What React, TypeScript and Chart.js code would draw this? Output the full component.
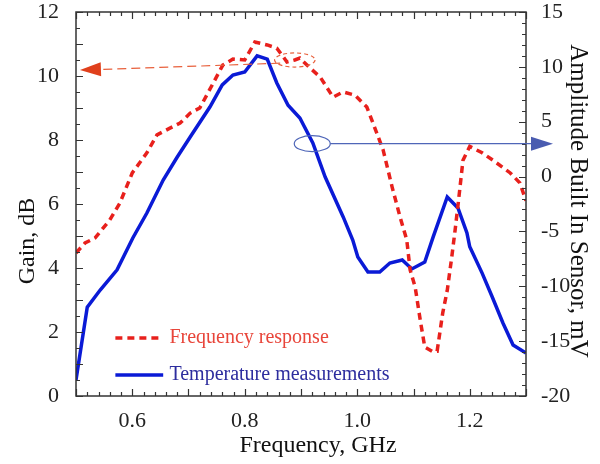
import React, { useEffect, useRef } from "react";
import { Chart, registerables } from "chart.js";
Chart.register(...registerables);

// Frequency response (left axis, Gain dB)
const RESP_FREQ = [0.5, 0.516, 0.534, 0.56, 0.578, 0.6, 0.626, 0.644, 0.667, 0.685, 0.703, 0.72, 0.744, 0.761, 0.779, 0.8, 0.818, 0.84, 0.857, 0.875, 0.889, 0.898, 0.916, 0.934, 0.957, 0.975, 0.996, 1.017, 1.028, 1.046, 1.062, 1.076, 1.088, 1.094, 1.103, 1.112, 1.12, 1.133, 1.142, 1.152, 1.16, 1.168, 1.174, 1.18, 1.188, 1.2, 1.222, 1.241, 1.272, 1.289, 1.3];
const RESP_GAIN = [4.47, 4.78, 4.94, 5.5, 6.03, 6.97, 7.6, 8.16, 8.37, 8.53, 8.84, 9.0, 9.78, 10.34, 10.53, 10.5, 11.06, 10.97, 10.87, 10.44, 10.5, 10.56, 10.25, 9.97, 9.34, 9.5, 9.4, 9.03, 8.53, 7.69, 6.53, 5.6, 4.88, 3.94, 3.4, 2.37, 1.53, 1.4, 1.4, 2.6, 3.3, 4.34, 5.19, 6.1, 7.37, 7.8, 7.6, 7.37, 6.97, 6.66, 6.1];

// Temperature measurements (right axis, mV)
const TEMP_FREQ = [0.5, 0.52, 0.543, 0.573, 0.601, 0.626, 0.655, 0.68, 0.703, 0.738, 0.76, 0.779, 0.8, 0.822, 0.84, 0.857, 0.877, 0.898, 0.921, 0.943, 0.975, 0.992, 1.001, 1.019, 1.04, 1.058, 1.08, 1.097, 1.12, 1.135, 1.16, 1.179, 1.195, 1.2, 1.222, 1.24, 1.259, 1.277, 1.3];
const TEMP_MV = [-18.54, -11.9, -10.34, -8.5, -5.6, -3.32, -0.31, 1.78, 3.6, 6.34, 8.35, 9.26, 9.53, 11.0, 10.7, 8.53, 6.5, 5.34, 3.06, -0.04, -3.68, -5.78, -7.33, -8.7, -8.7, -7.88, -7.6, -8.42, -7.79, -5.5, -1.86, -2.86, -5.14, -6.4, -8.8, -10.98, -13.35, -15.35, -16.08];

const X_LABELS = [0.6, 0.8, 1.0, 1.2];
const LEFT_LABELS = [0, 2, 4, 6, 8, 10, 12];
const RIGHT_LABELS = [-20, -15, -10, -5, 0, 5, 10, 15];

const SERIES_NAMES = ["Frequency response", "Temperature measurements"];
const X_TITLE = "Frequency, GHz";
const LEFT_TITLE = "Gain, dB";
const RIGHT_TITLE = "Amplitude Built In Sensor, mV";

// annotation anchors in data coordinates
const RED_ELLIPSE = { x: 0.889, y: 10.5, rx: 0.036, ry: 0.22 };
const RED_ARROW = { x0: 0.863, y0: 10.4, x1: 0.507, y1: 10.19 };
const BLUE_ELLIPSE = { x: 0.92, y: 3, rx: 0.032, ry: 0.73 };
const BLUE_ARROW = { x0: 0.952, y0: 3, x1: 1.348, y1: 3 };

const RED = "#e8201c";
const BLUE = "#0a1ad6";
const SERIF = "'Liberation Serif', 'DejaVu Serif', serif";

function arrowHead(ctx: CanvasRenderingContext2D, x0: number, y0: number, x1: number, y1: number, len: number, half: number) {
  const a = Math.atan2(y1 - y0, x1 - x0);
  ctx.beginPath();
  ctx.moveTo(x1, y1);
  ctx.lineTo(x1 - len * Math.cos(a) + half * Math.sin(a), y1 - len * Math.sin(a) - half * Math.cos(a));
  ctx.lineTo(x1 - len * Math.cos(a) - half * Math.sin(a), y1 - len * Math.sin(a) + half * Math.cos(a));
  ctx.closePath();
  ctx.fill();
}

const decor = {
  id: "decor",
  afterDraw(chart: any) {
    const ctx: CanvasRenderingContext2D = chart.ctx;
    const { left, right, top, bottom } = chart.chartArea;
    const xs = chart.scales.x;
    const yl = chart.scales.y;
    const yr = chart.scales.y2;
    ctx.save();
    // frame
    ctx.strokeStyle = "#333";
    ctx.lineWidth = 1.5;
    ctx.strokeRect(left, top, right - left, bottom - top);
    // x ticks (bottom & top, inward)
    ctx.lineWidth = 1.2;
    ctx.beginPath();
    for (let i = 0; i <= 40; i++) {
      const v = 0.5 + i * 0.02;
      const px = Math.round(xs.getPixelForValue(v)) + 0.5;
      const len = i % 5 === 0 ? 7 : 4;
      ctx.moveTo(px, bottom);
      ctx.lineTo(px, bottom - len);
      ctx.moveTo(px, top);
      ctx.lineTo(px, top + len);
    }
    // left ticks
    for (let i = 0; i <= 24; i++) {
      const v = i * 0.5;
      const py = Math.round(yl.getPixelForValue(v)) + 0.5;
      const len = i % 2 === 0 ? 7 : 4;
      ctx.moveTo(left, py);
      ctx.lineTo(left + len, py);
    }
    // right ticks
    for (let i = -20; i <= 15; i++) {
      const py = Math.round(yr.getPixelForValue(i)) + 0.5;
      const len = i % 5 === 0 ? 7 : 4;
      ctx.moveTo(right, py);
      ctx.lineTo(right - len, py);
    }
    ctx.stroke();

    // red annotation
    ctx.strokeStyle = "#e8603c";
    ctx.fillStyle = "#e0401c";
    ctx.lineWidth = 1.2;
    ctx.setLineDash([4, 3]);
    ctx.beginPath();
    ctx.ellipse(
      xs.getPixelForValue(RED_ELLIPSE.x), yl.getPixelForValue(RED_ELLIPSE.y),
      Math.abs(xs.getPixelForValue(RED_ELLIPSE.x + RED_ELLIPSE.rx) - xs.getPixelForValue(RED_ELLIPSE.x)),
      Math.abs(yl.getPixelForValue(RED_ELLIPSE.y + RED_ELLIPSE.ry) - yl.getPixelForValue(RED_ELLIPSE.y)),
      0, 0, Math.PI * 2);
    ctx.stroke();
    ctx.setLineDash([9, 5]);
    const rx0 = xs.getPixelForValue(RED_ARROW.x0), ry0 = yl.getPixelForValue(RED_ARROW.y0);
    const rx1 = xs.getPixelForValue(RED_ARROW.x1), ry1 = yl.getPixelForValue(RED_ARROW.y1);
    ctx.beginPath();
    ctx.moveTo(rx0, ry0);
    ctx.lineTo(rx1 + 18, ry1 - 0.3);
    ctx.stroke();
    ctx.setLineDash([]);
    arrowHead(ctx, rx0, ry0, rx1, ry1, 21, 7);

    // blue annotation
    ctx.strokeStyle = "#4f66b8";
    ctx.fillStyle = "#4a5cb0";
    ctx.lineWidth = 1.2;
    ctx.beginPath();
    ctx.ellipse(
      xs.getPixelForValue(BLUE_ELLIPSE.x), yr.getPixelForValue(BLUE_ELLIPSE.y),
      Math.abs(xs.getPixelForValue(BLUE_ELLIPSE.x + BLUE_ELLIPSE.rx) - xs.getPixelForValue(BLUE_ELLIPSE.x)),
      Math.abs(yr.getPixelForValue(BLUE_ELLIPSE.y + BLUE_ELLIPSE.ry) - yr.getPixelForValue(BLUE_ELLIPSE.y)),
      0, 0, Math.PI * 2);
    ctx.stroke();
    const bx0 = xs.getPixelForValue(BLUE_ARROW.x0), by0 = yr.getPixelForValue(BLUE_ARROW.y0);
    const bx1 = xs.getPixelForValue(BLUE_ARROW.x1), by1 = yr.getPixelForValue(BLUE_ARROW.y1);
    ctx.beginPath();
    ctx.moveTo(bx0, by0);
    ctx.lineTo(bx1 - 18, by1);
    ctx.stroke();
    arrowHead(ctx, bx0, by0, bx1, by1, 22, 7);

    // legend
    const lx0 = xs.getPixelForValue(0.57), lx1 = xs.getPixelForValue(0.655);
    const tx = xs.getPixelForValue(0.666);
    const ly1 = yl.getPixelForValue(1.81), ly2 = yl.getPixelForValue(0.66);
    ctx.lineWidth = 3.5;
    ctx.strokeStyle = RED;
    ctx.setLineDash([7, 5]);
    ctx.beginPath();
    ctx.moveTo(lx0, ly1);
    ctx.lineTo(lx1, ly1);
    ctx.stroke();
    ctx.setLineDash([]);
    ctx.strokeStyle = BLUE;
    ctx.beginPath();
    ctx.moveTo(lx0, ly2);
    ctx.lineTo(lx1, ly2);
    ctx.stroke();
    ctx.font = `20px ${SERIF}`;
    ctx.textBaseline = "middle";
    ctx.textAlign = "left";
    ctx.fillStyle = "#e8453a";
    ctx.fillText(SERIES_NAMES[0], tx, ly1);
    ctx.fillStyle = "#2d2d9e";
    ctx.fillText(SERIES_NAMES[1], tx, ly2);

    // axis titles
    ctx.fillStyle = "#111";
    ctx.font = `24px ${SERIF}`;
    ctx.textAlign = "center";
    ctx.textBaseline = "middle";
    ctx.fillText(X_TITLE, 318, 446);
    ctx.save();
    ctx.translate(28, 241);
    ctx.rotate(-Math.PI / 2);
    ctx.fillText(LEFT_TITLE, 0, 0);
    ctx.restore();
    ctx.save();
    ctx.translate(578, 201);
    ctx.rotate(Math.PI / 2);
    ctx.font = `25px ${SERIF}`;
    ctx.fillText(RIGHT_TITLE, 0, 0);
    ctx.restore();
    ctx.restore();
  },
};

export default function App() {
  const ref = useRef<HTMLCanvasElement>(null);
  useEffect(() => {
    document.body.style.margin = "0";
    const tickFont = { family: SERIF, size: 22 };
    const noPadV = (s: any) => { s.paddingTop = 0; s.paddingBottom = 0; };
    const chart = new Chart(ref.current!, {
      type: "line",
      data: {
        datasets: [
          {
            label: SERIES_NAMES[0],
            data: RESP_FREQ.map((x, i) => ({ x, y: RESP_GAIN[i] })),
            borderColor: RED,
            borderWidth: 3.5,
            borderDash: [7, 5],
            pointRadius: 0,
            yAxisID: "y",
            tension: 0,
          },
          {
            label: SERIES_NAMES[1],
            data: TEMP_FREQ.map((x, i) => ({ x, y: TEMP_MV[i] })),
            borderColor: BLUE,
            borderWidth: 3.5,
            pointRadius: 0,
            yAxisID: "y2",
            tension: 0,
          },
        ],
      },
      options: {
        responsive: false,
        animation: false,
        layout: { padding: { top: 12, left: 0, right: 0, bottom: 0 } },
        plugins: { legend: { display: false }, tooltip: { enabled: false } },
        scales: {
          x: {
            type: "linear",
            min: 0.5,
            max: 1.3,
            afterBuildTicks: (s: any) => { s.ticks = X_LABELS.map((v) => ({ value: v })); },
            afterFit: (s: any) => { s.height = 68; s.paddingLeft = 0; s.paddingRight = 0; },
            ticks: { font: tickFont, color: "#222", padding: 4, maxRotation: 0, autoSkip: false, callback: (v: any) => Number(v).toFixed(1) },
            grid: { display: false },
            border: { display: false },
          },
          y: {
            position: "left",
            min: 0,
            max: 12,
            afterBuildTicks: (s: any) => { s.ticks = LEFT_LABELS.map((v) => ({ value: v })); },
            afterFit: (s: any) => { s.width = 76; noPadV(s); },
            ticks: { font: tickFont, color: "#222", padding: 9, autoSkip: false, callback: (v: any) => String(v) },
            grid: { display: false },
            border: { display: false },
          },
          y2: {
            position: "right",
            min: -20,
            max: 15,
            afterBuildTicks: (s: any) => { s.ticks = RIGHT_LABELS.map((v) => ({ value: v })); },
            afterFit: (s: any) => { s.width = 74; noPadV(s); },
            ticks: { font: tickFont, color: "#222", padding: 7, autoSkip: false, callback: (v: any) => String(v) },
            grid: { display: false },
            border: { display: false },
          },
        },
      },
      plugins: [decor],
    } as any);
    return () => chart.destroy();
  }, []);
  return <canvas ref={ref} width={600} height={464} />;
}
